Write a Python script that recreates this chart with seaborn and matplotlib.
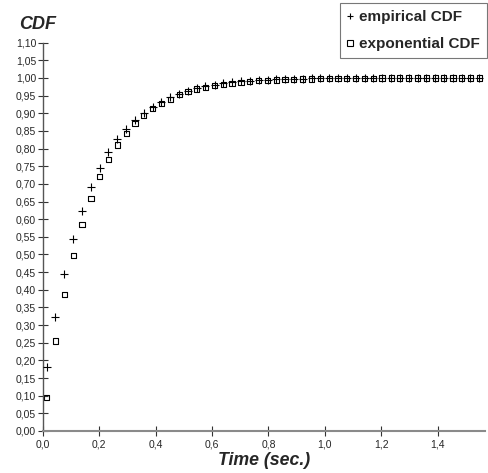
import matplotlib
matplotlib.use('Agg')
import matplotlib.pyplot as plt
import numpy as np
import pandas as pd
import seaborn as sns
from matplotlib.lines import Line2D

sns.set_style('white')
plt.rcParams['font.family'] = ['Liberation Sans', 'DejaVu Sans']

# --- data ---
time_s = [0.014, 0.045, 0.077, 0.108, 0.139, 0.171, 0.202, 0.233, 0.264, 0.296,
          0.327, 0.358, 0.390, 0.421, 0.452, 0.484, 0.515, 0.546, 0.577, 0.609,
          0.640, 0.671, 0.703, 0.734, 0.765, 0.797, 0.828, 0.859, 0.890, 0.922,
          0.953, 0.984, 1.016, 1.047, 1.078, 1.110, 1.141, 1.172, 1.203, 1.235,
          1.266, 1.297, 1.329, 1.360, 1.391, 1.422, 1.454, 1.485, 1.516, 1.548]
empirical_cdf = [0.180, 0.324, 0.444, 0.544, 0.624, 0.690, 0.746, 0.790, 0.826, 0.856,
                 0.882, 0.902, 0.918, 0.932, 0.945, 0.955, 0.964, 0.971, 0.976, 0.981,
                 0.985, 0.988, 0.990, 0.992, 0.994, 0.995, 0.996, 0.997, 0.998, 0.998,
                 0.999, 0.999, 0.999, 1.000, 1.000, 1.000, 1.000, 1.000, 1.000, 1.000,
                 1.000, 1.000, 1.000, 1.000, 1.000, 1.000, 1.000, 1.000, 1.000, 1.000]
exponential_cdf = [0.094, 0.255, 0.387, 0.496, 0.586, 0.658, 0.720, 0.770, 0.810, 0.843,
                   0.872, 0.894, 0.913, 0.928, 0.940, 0.953, 0.962, 0.969, 0.974, 0.979,
                   0.982, 0.985, 0.988, 0.990, 0.992, 0.993, 0.994, 0.995, 0.996, 0.997,
                   0.997, 0.998, 0.998, 0.998, 0.999, 0.999, 0.999, 0.999, 1.000, 1.000,
                   1.000, 1.000, 1.000, 1.000, 1.000, 1.000, 1.000, 1.000, 1.000, 1.000]
y_ticks = [0.00, 0.05, 0.10, 0.15, 0.20, 0.25, 0.30, 0.35, 0.40, 0.45, 0.50, 0.55,
           0.60, 0.65, 0.70, 0.75, 0.80, 0.85, 0.90, 0.95, 1.00, 1.05, 1.10]
x_ticks = [0.0, 0.2, 0.4, 0.6, 0.8, 1.0, 1.2, 1.4]

df = pd.DataFrame({'t': time_s, 'emp': empirical_cdf, 'exp': exponential_cdf})

fig = plt.figure(figsize=(4.88, 4.73), dpi=100)
ax = fig.add_axes([0.0875, 0.0888, 0.9065, 0.821])

sns.scatterplot(data=df, x='t', y='emp', marker='+', s=26, color='black',
                linewidth=0.8, ax=ax, zorder=3)
sns.scatterplot(data=df, x='t', y='exp', marker='s', s=14, facecolor='none',
                edgecolor='black', linewidth=0.8, ax=ax, zorder=2)

ax.set_xlim(0, 1.568)
ax.set_ylim(0, 1.10)
ax.set_xticks(x_ticks)
ax.set_yticks(y_ticks)
ax.set_xticklabels([f'{v:.1f}'.replace('.', ',') for v in x_ticks])
ax.set_yticklabels([f'{v:.2f}'.replace('.', ',') for v in y_ticks])
ax.tick_params(axis='y', direction='inout', length=7, width=0.8, color='#333333',
               labelsize=7.5, pad=1.2, left=True)
ax.tick_params(axis='x', direction='inout', length=7, width=0.8, color='#333333',
               labelsize=7.5, pad=2.5, bottom=True)

for side in ['top', 'right']:
    ax.spines[side].set_visible(False)
ax.spines['left'].set_color('#555555')
ax.spines['left'].set_linewidth(1.0)
ax.spines['bottom'].set_color('#8a8a8a')
ax.spines['bottom'].set_linewidth(1.5)

ax.set_xlabel('')
ax.set_ylabel('')
fig.text(0.5410, 0.0175, 'Time (sec.)', ha='center', va='baseline',
         fontsize=12.8, fontweight='bold', fontstyle='italic')
fig.text(0.040, 0.948, 'CDF', ha='left', va='center',
         fontsize=13, fontweight='bold', fontstyle='italic')

handles = [Line2D([], [], marker='+', ls='none', color='black', markersize=5, mew=0.8),
           Line2D([], [], marker='s', ls='none', mfc='none', mec='black', markersize=4, mew=0.8)]
leg = fig.legend(handles, ['empirical CDF', 'exponential CDF'],
                 loc='upper right', bbox_to_anchor=(0.998, 0.994),
                 frameon=True, fancybox=False, edgecolor='#555555',
                 prop={'weight': 'bold', 'size': 11}, handlelength=0.5,
                 handletextpad=0.35, borderpad=0.45, labelspacing=0.85,
                 borderaxespad=0.0, handleheight=0.5)
leg.get_frame().set_linewidth(0.8)

fig.savefig('out.png', dpi=100)
